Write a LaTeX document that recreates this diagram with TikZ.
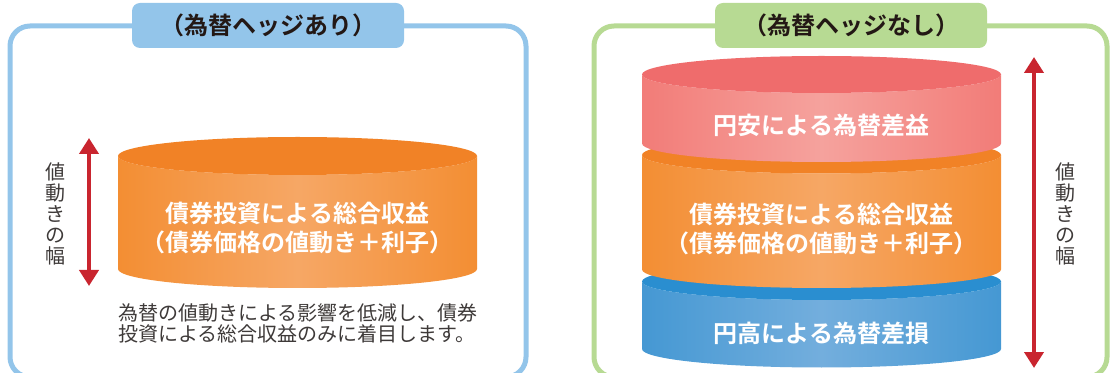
\documentclass[tikz,border=0pt]{standalone}
\usepackage{fontspec}
\setmainfont{Noto Sans CJK JP}[BoldFont={Noto Sans CJK JP Bold}]
\usetikzlibrary{positioning,arrows.meta,shadings}
\definecolor{hedgeblue}{HTML}{93C5EA}
\definecolor{hedgegreen}{HTML}{B7DA93}
\definecolor{titletext}{HTML}{231815}
\definecolor{notetext}{HTML}{3E3A39}
\definecolor{rangered}{HTML}{C9252F}
\definecolor{orangetop}{HTML}{F18226}
\definecolor{orangeside}{HTML}{F38E33}
\definecolor{orangemid}{HTML}{F6A765}
\definecolor{redtop}{HTML}{EF6C6C}
\definecolor{redside}{HTML}{F27C78}
\definecolor{redmid}{HTML}{F5A29D}
\definecolor{bluetop}{HTML}{2A8ED0}
\definecolor{blueside}{HTML}{4598D3}
\definecolor{bluemid}{HTML}{73AEDD}

\begin{document}
\begin{tikzpicture}
  [x=1pt, y=1pt,
  panel/.style={draw=#1, line width=5pt, rounded corners=20pt},
  paneltitle/.style={
    fill=#1,
    rounded corners=8pt,
    minimum width=272pt,
    minimum height=45pt,
    inner sep=0pt,
    text=titletext,
    font=\fontsize{24}{28}\selectfont\bfseries
    },
  layertext/.style={text=white, align=center, font=\fontsize{24}{29}\selectfont\bfseries},
  note/.style={text=notetext, inner sep=0pt, font=\fontsize{20}{21}\selectfont},
  rangearrow/.style={draw=rangered, line width=4pt,
    {Triangle[width=19pt,length=16pt]}-{Triangle[width=19pt,length=16pt]}}
  ]
  \useasboundingbox (0,0) rectangle (1113,372);
  \clip (0,0) rectangle (1113,372);

  % cornici
  \draw[panel=hedgeblue] (10,-5) rectangle (526,346);
  \draw[panel=hedgegreen] (594,-5) rectangle (1107,346);
  \node[paneltitle=hedgeblue] (hedgetitle) at (268,346.5) {（為替ヘッジあり）};
  \node[paneltitle=hedgegreen] (nohedgetitle) at (851,346.5) {（為替ヘッジなし）};

  % sinistra
  \shade[left color=orangeside, right color=orangeside, middle color=orangemid]
    (118,216) -- (118,103) arc[start angle=180, end angle=360, x radius=179.5pt, y radius=19pt]
    -- (477,216) arc[start angle=0, end angle=-180, x radius=179.5pt, y radius=19pt] -- cycle;
  \fill[orangetop] (297.5,216) ellipse[x radius=179.5pt, y radius=19pt];
  \node[layertext] (bondleft) at (297.5,144) {債券投資による総合収益\\（債券価格の値動き＋利子）};

  \coordinate (rangeltop) at (89,234);
  \coordinate (rangelbot) at (89,86);
  \draw[rangearrow] (rangelbot) -- (rangeltop);
  \node[note, align=center] (rangelabell) at (55,158.5) {値\\動\\き\\の\\幅};

  \node[note, anchor=base west] (notea) at (118,51.5) {為替の値動きによる影響を低減し、債券};
  \node[note, below=21pt of notea.base west, anchor=base west] (noteb) {投資による総合収益のみに着目します。};

  % destra
  \shade[left color=blueside, right color=blueside, middle color=bluemid]
    (642,90.5) -- (642,23) arc[start angle=180, end angle=360, x radius=179.5pt, y radius=18.5pt]
    -- (1001,90.5) arc[start angle=0, end angle=-180, x radius=179.5pt, y radius=18.5pt] -- cycle;
  \fill[bluetop] (821.5,90.5) ellipse[x radius=179.5pt, y radius=18.5pt];

  \shade[left color=orangeside, right color=orangeside, middle color=orangemid]
    (642,217) -- (642,102.5) arc[start angle=180, end angle=360, x radius=179.5pt, y radius=18.5pt]
    -- (1001,217) arc[start angle=0, end angle=-180, x radius=179.5pt, y radius=18.5pt] -- cycle;
  \fill[orangetop] (821.5,217) ellipse[x radius=179.5pt, y radius=18.5pt];

  \shade[left color=redside, right color=redside, middle color=redmid]
    (642,297.5) -- (642,228.5) arc[start angle=180, end angle=360, x radius=179.5pt, y radius=18.5pt]
    -- (1001,297.5) arc[start angle=0, end angle=-180, x radius=179.5pt, y radius=18.5pt] -- cycle;
  \fill[redtop] (821.5,297.5) ellipse[x radius=179.5pt, y radius=18.5pt];

  \node[layertext] (yasu) at (821.5,247) {円安による為替差益};
  \node[layertext] (bondright) at (821.5,143.5) {債券投資による総合収益\\（債券価格の値動き＋利子）};
  \node[layertext] (daka) at (821.5,39) {円高による為替差損};

  \coordinate (rangertop) at (1034,315);
  \coordinate (rangerbot) at (1034,4);
  \draw[rangearrow] (rangerbot) -- (rangertop);
  \node[note, align=center] (rangelabelr) at (1065,158.5) {値\\動\\き\\の\\幅};
\end{tikzpicture}
\end{document}
